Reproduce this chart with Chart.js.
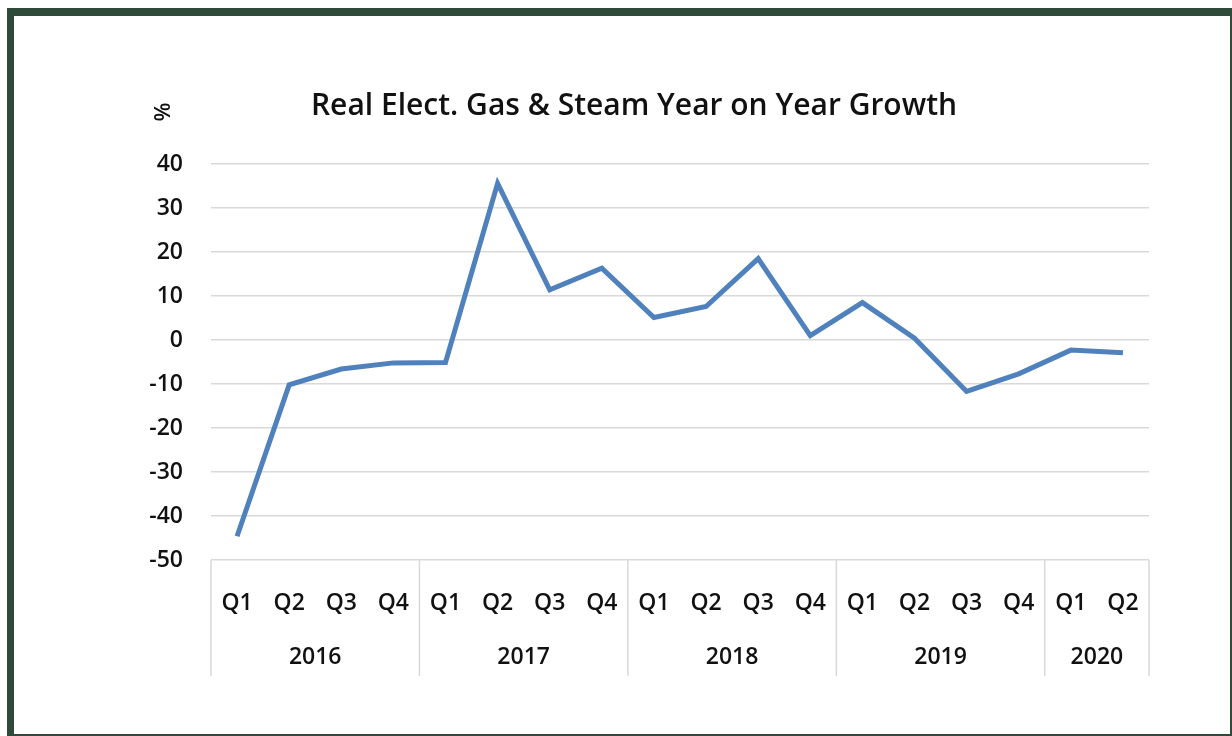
<!DOCTYPE html>
<html>
<head>
<meta charset="utf-8">
<script src="https://cdn.jsdelivr.net/npm/chart.js@4"></script>
<style>
  html, body { margin: 0; padding: 0; background: #fff; }
  #frame {
    position: absolute; left: 7px; top: 8px; right: 0; bottom: 0;
    border-style: solid; border-color: #304a3a;
    border-width: 8px 2px 2px 7px;
  }
  #myChart { position: absolute; left: 0; top: 0; }
</style>
</head>
<body>
<div id="frame"></div>
<canvas id="myChart" width="1232" height="736"></canvas>
<script>
var quarters = ["Q1", "Q2", "Q3", "Q4", "Q1", "Q2", "Q3", "Q4", "Q1", "Q2", "Q3", "Q4", "Q1", "Q2", "Q3", "Q4", "Q1", "Q2"];
var years = ["2016", "2017", "2018", "2019", "2020"];
var quartersPerYear = [4, 4, 4, 4, 2];
var growth = [-44.6, -10.2, -6.6, -5.2, -5.1, 35.6, 11.4, 16.3, 5.1, 7.6, 18.5, 1.0, 8.5, 0.4, -11.7, -7.7, -2.3, -2.9];
var yMin = -50, yMax = 40, yStep = 10;

var titleText = "Real Elect. Gas & Steam Year on Year Growth";
var unitText = "%";
var fontFamily = "'Open Sans', 'Noto Sans', sans-serif";

// year groups under the quarter labels, plus title and unit
var extras = {
  id: "extras",
  afterDraw: function (chart) {
    var ctx = chart.ctx;
    var x = chart.scales.x;
    var area = chart.chartArea;
    ctx.save();
    ctx.strokeStyle = "#d9d9d9";
    ctx.lineWidth = 1.5;
    ctx.fillStyle = "#111";
    ctx.font = "600 23px " + fontFamily;
    ctx.textAlign = "center";
    ctx.textBaseline = "middle";
    var start = 0;
    for (var g = 0; g < years.length; g++) {
      var end = start + quartersPerYear[g] - 1;
      var left = start === 0 ? area.left : (x.getPixelForValue(start - 1) + x.getPixelForValue(start)) / 2;
      var right = end === quarters.length - 1 ? area.right : (x.getPixelForValue(end) + x.getPixelForValue(end + 1)) / 2;
      ctx.beginPath();
      ctx.moveTo(left, area.bottom);
      ctx.lineTo(left, area.bottom + 116);
      ctx.stroke();
      if (g === years.length - 1) {
        ctx.beginPath();
        ctx.moveTo(right, area.bottom);
        ctx.lineTo(right, area.bottom + 116);
        ctx.stroke();
      }
      ctx.fillText(years[g], (left + right) / 2, area.bottom + 97);
      start = end + 1;
    }
    ctx.font = "600 30px " + fontFamily;
    ctx.fillText(titleText, 634, 106);
    ctx.translate(164, 112);
    ctx.rotate(-Math.PI / 2);
    ctx.font = "600 22px " + fontFamily;
    ctx.fillText(unitText, 0, 0);
    ctx.restore();
  }
};

new Chart("myChart", {
  type: "line",
  data: {
    labels: quarters,
    datasets: [{
      data: growth,
      borderColor: "#4f81bd",
      borderWidth: 5,
      pointRadius: 0,
      tension: 0,
      fill: false
    }]
  },
  options: {
    responsive: false,
    animation: false,
    layout: { padding: { top: 164, right: 83, left: 0, bottom: 0 } },
    plugins: {
      legend: { display: false },
      title: { display: false },
      tooltip: { enabled: false }
    },
    scales: {
      x: {
        offset: true,
        grid: { display: false },
        border: { display: false },
        ticks: {
          autoSkip: false,
          maxRotation: 0,
          padding: 22,
          color: "#111",
          font: { family: fontFamily, size: 23, weight: "600" }
        },
        afterFit: function (s) { s.height = 176; }
      },
      y: {
        min: yMin,
        max: yMax,
        grid: { color: "#d9d9d9", lineWidth: 1.5, drawTicks: false },
        border: { display: false },
        ticks: {
          stepSize: yStep,
          padding: 28,
          color: "#111",
          font: { family: fontFamily, size: 23, weight: "600" }
        },
        afterFit: function (s) { s.width = 211; }
      }
    }
  },
  plugins: [extras]
});
</script>
</body>
</html>
